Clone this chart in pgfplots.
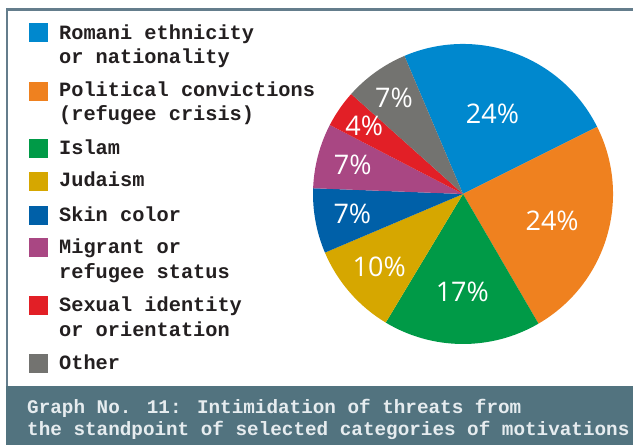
\documentclass[border=0pt]{standalone}
\usepackage{pgfplots}
\pgfplotsset{compat=1.18}
\usepackage{pgfplotstable}
\usepackage{fontspec}
\newfontfamily\legfont{Liberation Mono}
\newfontfamily\pctfont{Open Sans}

\definecolor{cRomani}{HTML}{0088CE}
\definecolor{cPolitical}{HTML}{EF811F}
\definecolor{cIslam}{HTML}{009A47}
\definecolor{cJudaism}{HTML}{D6A700}
\definecolor{cSkin}{HTML}{0060A8}
\definecolor{cMigrant}{HTML}{A94783}
\definecolor{cSexual}{HTML}{E21F26}
\definecolor{cOther}{HTML}{737370}
\definecolor{frameC}{HTML}{647D8C}
\definecolor{barC}{HTML}{52737F}
\definecolor{capC}{HTML}{E6ECEF}
\definecolor{txtC}{HTML}{231F20}

\pgfplotstableread{
val col lr
24 cRomani 0.57
24 cPolitical 0.62
17 cIslam 0.65
10 cJudaism 0.74
7 cSkin 0.75
7 cMigrant 0.76
4 cSexual 0.80
7 cOther 0.79
}\piedata

\begin{document}
\begin{tikzpicture}[x=1bp,y=1bp]
\useasboundingbox (0,0) rectangle (633,445);
% frame
\draw[frameC, line width=2.5bp] (7,59) -- (7,435.5) -- (633,435.5);
\fill[barC] (5.75,0) rectangle (633,59);
% caption
\tikzset{captxt/.style={anchor=base west, inner sep=0pt, text=capC, font={\legfont\bfseries\fontsize{19.3bp}{23bp}\selectfont}}}
\node[captxt] at (27,31) {Graph No. 11: Intimidation of threats from};
\node[captxt] at (27,9) {the standpoint of selected categories of motivations};
% legend
\tikzset{leg/.style={anchor=base west, inner sep=0pt, text=txtC, font={\legfont\bfseries\fontsize{20.3bp}{24bp}\selectfont}}}
\fill[cRomani] (29,403) rectangle (48,422);
\node[leg] at (59,405.7) {Romani ethnicity};
\node[leg] at (59,381.7) {or nationality};
\fill[cPolitical] (29,344) rectangle (48,363);
\node[leg] at (59,348.3) {Political convictions};
\node[leg] at (59,324.3) {(refugee crisis)};
\fill[cIslam] (29,287) rectangle (48,306);
\node[leg] at (59,290) {Islam};
\fill[cJudaism] (29,254) rectangle (48,273);
\node[leg] at (59,258) {Judaism};
\fill[cSkin] (29,220) rectangle (48,239);
\node[leg] at (59,223.3) {Skin color};
\fill[cMigrant] (29,188) rectangle (48,207);
\node[leg] at (59,191.7) {Migrant or};
\node[leg] at (59,166.7) {refugee status};
\fill[cSexual] (29,130) rectangle (48,149);
\node[leg] at (59,133.3) {Sexual identity};
\node[leg] at (59,108.3) {or orientation};
\fill[cOther] (29,72) rectangle (48,91);
\node[leg] at (59,75) {Other};
% pie
\begin{axis}[hide axis, scale only axis, width=300bp, height=300bp,
  xmin=-1, xmax=1, ymin=-1, ymax=1, at={(463bp,251bp)}, anchor=center, clip=false]
\pgfplotstablegetrowsof{\piedata}
\pgfmathtruncatemacro{\nrows}{\pgfplotsretval-1}
\gdef\startang{113}
\pgfplotsforeachungrouped \i in {0,...,\nrows}{%
  \pgfplotstablegetelem{\i}{val}\of\piedata \let\v\pgfplotsretval
  \pgfplotstablegetelem{\i}{col}\of\piedata \let\c\pgfplotsretval
  \pgfmathsetmacro{\endang}{\startang-3.6*\v}
  \edef\temp{\noexpand\fill[\c] (axis cs:0,0) -- (axis cs:{cos(\startang)},{sin(\startang)}) arc[start angle=\startang, end angle=\endang, radius=150bp] -- cycle;}
  \temp
  \global\let\startang\endang
}
\gdef\startang{113}
\pgfplotsforeachungrouped \i in {0,...,\nrows}{%
  \pgfplotstablegetelem{\i}{val}\of\piedata \let\v\pgfplotsretval
  \pgfplotstablegetelem{\i}{lr}\of\piedata \let\lr\pgfplotsretval
  \pgfmathsetmacro{\endang}{\startang-3.6*\v}
  \pgfmathsetmacro{\midang}{(\startang+\endang)/2}
  \edef\temp{\noexpand\node[text=white, inner sep=0pt, font={\noexpand\pctfont\noexpand\fontsize{27bp}{30bp}\noexpand\selectfont}] at (axis cs:{\lr*cos(\midang)},{\lr*sin(\midang)}) {\v\noexpand\%};}
  \temp
  \global\let\startang\endang
}
\end{axis}
\end{tikzpicture}
\end{document}
